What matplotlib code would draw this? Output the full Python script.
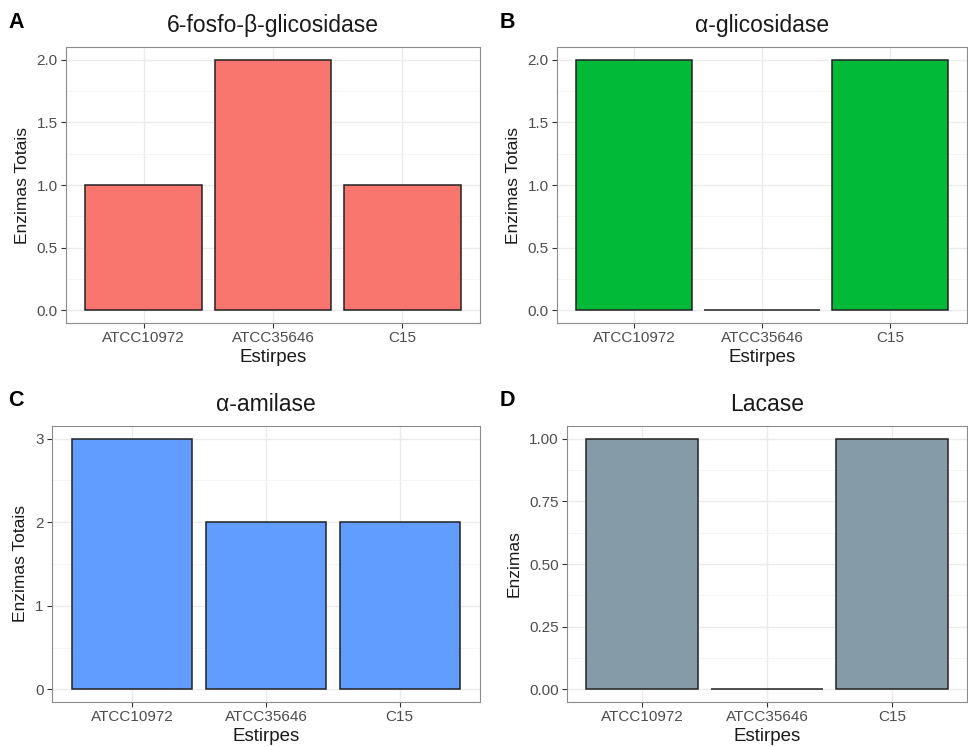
import numpy as np
import matplotlib.pyplot as plt
from matplotlib.ticker import MultipleLocator

plt.rcParams['font.family'] = ['Liberation Sans', 'DejaVu Sans']

# data
estirpes = ["ATCC10972", "ATCC35646", "C15"]
fosfo_glic = [1, 2, 1]
alfa_glic = [2, 0, 2]
alfa_amil = [3, 2, 2]
lacase = [1, 0, 1]

W, H = 968, 747
fig = plt.figure(figsize=(W/100, H/100), dpi=100)

def px_axes(l, r, t, b):
    return fig.add_axes([l/W, 1 - b/H, (r-l)/W, (b-t)/H])

panels = [
    # tag, title, values, colour, ylabel, box (l, r, t, b), major, minor, fmt
    ("A", "6-fosfo-β-glicosidase", fosfo_glic, "#F8766D", "Enzimas Totais", (66, 480, 47, 323), 0.5, 0.25, "{:.1f}"),
    ("B", "α-glicosidase", alfa_glic, "#00BA38", "Enzimas Totais", (557, 967, 47, 323), 0.5, 0.25, "{:.1f}"),
    ("C", "α-amilase", alfa_amil, "#619CFF", "Enzimas Totais", (52, 480, 426, 702), 1, 0.5, "{:.0f}"),
    ("D", "Lacase", lacase, "#859BA8", "Enzimas", (567, 967, 426, 702), 0.25, 0.125, "{:.2f}"),
]

for tag, title, vals, col, ylab, box, maj, mnr, fmt in panels:
    ax = px_axes(*box)
    x = np.arange(1, len(estirpes) + 1)
    ax.bar(x, vals, width=0.9, color=col, edgecolor="#222222", linewidth=1.1, zorder=3)
    top = max(vals)
    ax.set_xlim(0.4, 3.6)
    ax.set_ylim(-0.05*top, top*1.05)
    ax.set_xticks(x)
    ax.set_xticklabels(estirpes)
    ax.yaxis.set_minor_locator(MultipleLocator(mnr))
    yt = np.arange(0, top + 1e-9, maj)
    ax.set_yticks(yt)
    ax.set_yticklabels([fmt.format(v) for v in yt])
    ax.grid(which="major", color="#EBEBEB", linewidth=1.0, zorder=0)
    ax.grid(which="minor", axis="y", color="#F2F2F2", linewidth=0.6, zorder=0)
    ax.set_axisbelow(True)
    ax.tick_params(which="major", length=3.5, width=0.8, color="#333333",
                   labelsize=11, labelcolor="#4D4D4D", pad=2.5)
    ax.tick_params(which="minor", length=0)
    for s in ax.spines.values():
        s.set_color("#8C8C8C")
        s.set_linewidth(0.8)
    ax.set_xlabel("Estirpes", fontsize=13.5, labelpad=2.5, color="#1A1A1A")
    ax.set_ylabel(ylab, fontsize=12.5, labelpad=5, color="#1A1A1A")
    ax.set_title(title, fontsize=16.5, pad=11, color="#1A1A1A")
    l, r, t, b = box
    tx = 8 if l < 484 else 500
    fig.text(tx/W, 1 - (t - 25)/H, tag, fontsize=15.5, fontweight="bold",
             ha="left", va="center")

fig.savefig("out.png", dpi=100)
